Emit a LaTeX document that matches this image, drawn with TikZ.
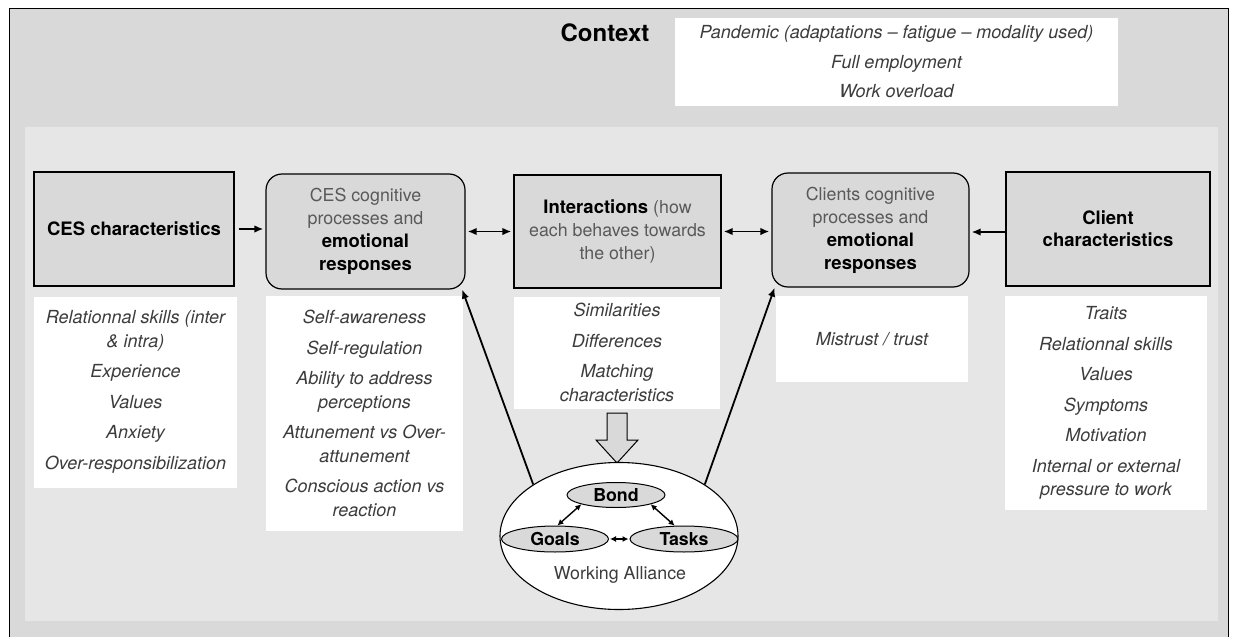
\documentclass[tikz,border=0pt]{standalone}
\usepackage{fontspec}
\setmainfont{TeX Gyre Heros}
\usetikzlibrary{shapes.geometric, arrows.meta}
\definecolor{outergray}{RGB}{217,217,217}
\definecolor{panelgray}{RGB}{230,230,230}
\definecolor{boxgray}{RGB}{217,217,217}
\definecolor{inkgray}{RGB}{60,60,60}
\newcommand{\keyterm}[1]{{\fontsize{18.5}{23}\selectfont\bfseries\color{black}#1}}

\begin{document}
\begin{tikzpicture}[x=1pt, y=-1pt,
    charbox/.style={rectangle, draw=black, line width=1.2pt, fill=boxgray, align=center, inner sep=0pt, font=\fontsize{18.5}{22}\selectfont\bfseries},
    procbox/.style={rectangle, rounded corners=16pt, draw=black, line width=1.2pt, fill=boxgray, align=center, inner sep=0pt, text=black!65, font=\fontsize{17.8}{23}\selectfont},
    listbox/.style={rectangle, fill=white, align=center, inner sep=0pt, text=inkgray, font=\fontsize{18}{23.5}\selectfont\itshape},
    part/.style={ellipse, draw=black, line width=1pt, fill=boxgray, inner sep=0pt, font=\fontsize{17.8}{20}\selectfont\bfseries},
    link/.style={-{Latex[length=9pt,width=7.5pt]}, line width=1.8pt},
    both/.style={{Latex[length=9pt,width=7.5pt]}-{Latex[length=9pt,width=7.5pt]}, line width=1.8pt},
    tiny/.style={{Latex[length=6pt,width=6pt]}-{Latex[length=6pt,width=6pt]}, line width=1.4pt}]
    \useasboundingbox (0,0) rectangle (1235,637);
    \fill[white] (0,0) rectangle (1235,637);
    \draw[fill=outergray, line width=1pt] (9,8) rectangle (1228,660);
    \fill[panelgray] (25,127) rectangle (1218,621);

    % context
    \node[font=\fontsize{24}{28}\selectfont\bfseries] (context) at (605,33) {Context};
    \node[listbox, minimum width=443, minimum height=88] (pressures) at (896.5,62) {Pandemic (adaptations -- fatigue -- modality used)\\[6pt] Full employment\\[6pt] Work overload};

    % top row
    \node[charbox, minimum width=200, minimum height=114] (cesChar) at (134,229) {CES characteristics};
    \node[procbox, minimum width=199, minimum height=115] (cesProc) at (365.5,231.5) {CES cognitive\\processes and\\\keyterm{emotional}\\\keyterm{responses}};
    \node[procbox, sharp corners, minimum width=207, minimum height=113] (talk) at (617.5,231.5) {\keyterm{Interactions} (how\\each behaves towards\\the other)};
    \node[procbox, minimum width=197, minimum height=114] (cliProc) at (870.5,230) {Clients cognitive\\processes and\\\keyterm{emotional}\\\keyterm{responses}};
    \node[charbox, minimum width=204, minimum height=114] (cliChar) at (1108,229) {Client\\characteristics};

    % lists
    \node[listbox, minimum width=203, minimum height=191] (cesTraits) at (135.5,392) {Relationnal skills (inter\\\& intra)\\[7pt] Experience\\[7pt] Values\\[7pt] Anxiety\\[7pt] Over-responsibilization};
    \node[listbox, minimum width=197, minimum height=235] (cesSkills) at (364.5,413.5) {Self-awareness\\[7pt] Self-regulation\\[7pt] Ability to address\\perceptions\\[7pt] Attunement vs Over-\\attunement\\[7pt] Conscious action vs\\reaction};
    \node[listbox, minimum width=206, minimum height=112] (fit) at (617,352.5) {Similarities\\[7pt] Differences\\[7pt] Matching\\characteristics};
    \node[listbox, minimum width=192, minimum height=86] (trust) at (872,339) {Mistrust / trust};
    \node[listbox, minimum width=202, minimum height=214] (cliTraits) at (1106,403) {Traits\\[7pt] Relationnal skills\\[7pt] Values\\[7pt] Symptoms\\[7pt] Motivation\\[7pt] Internal or external\\pressure to work};

    % working alliance
    \draw[fill=boxgray, line width=1pt] (607,413) -- (627,413) -- (627,440) -- (638,440) -- (617,463) -- (596,440) -- (607,440) -- cycle;
    \node[ellipse, draw=black, line width=1.1pt, fill=white, minimum width=238, minimum height=147, inner sep=0pt] (wa) at (619,536) {};
    \node[part, minimum width=98, minimum height=25] (bond) at (616,495) {Bond};
    \node[part, minimum width=107, minimum height=26] (goals) at (555,539) {Goals};
    \node[part, minimum width=108, minimum height=26] (tasks) at (684,539) {Tasks};
    \node[text=inkgray, font=\fontsize{17.8}{20}\selectfont] (walabel) at (620,575) {Working Alliance};

    \draw[tiny] (bond.195) -- (goals.80);
    \draw[tiny] (bond.-15) -- (tasks.125);
    \draw[tiny, shorten <=1pt, shorten >=1pt] (goals.east) -- (tasks.west);

    % connectors
    \draw[link, shorten <=4pt, shorten >=2pt] (cesChar.east) -- (cesChar.east -| cesProc.west);
    \draw[both, shorten <=2pt, shorten >=2pt] (cesProc.east) -- (talk.west);
    \draw[both, shorten <=2pt, shorten >=2pt] (talk.east) -- (talk.east -| cliProc.west);
    \draw[link, shorten >=2pt] ([yshift=-3pt]cliChar.west) -- ([yshift=-3pt]cliChar.west -| cliProc.east);
    \draw[link] (wa.149) -- (cesProc.-31);
    \draw[link] (wa.31) -- (cliProc.211);
\end{tikzpicture}
\end{document}
